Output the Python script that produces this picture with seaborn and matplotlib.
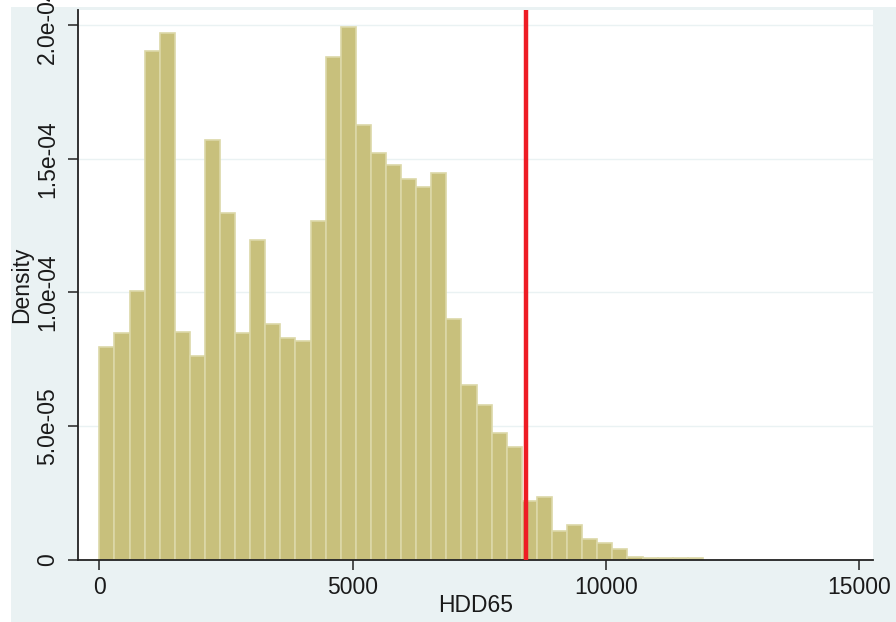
import numpy as np
import pandas as pd
import matplotlib
matplotlib.use("Agg")
import matplotlib.pyplot as plt
from matplotlib.patches import Rectangle
import seaborn as sns

# Histogram of heating degree days (HDD65): 40 bins of equal width starting at 0
bin_start = 0
bin_width = 298
density = [
    7.96e-05, 8.47e-05, 1.004e-04, 1.903e-04, 1.969e-04, 8.54e-05, 7.64e-05, 1.571e-04,
    1.296e-04, 8.47e-05, 1.197e-04, 8.84e-05, 8.31e-05, 8.17e-05, 1.267e-04, 1.879e-04,
    1.991e-04, 1.626e-04, 1.521e-04, 1.476e-04, 1.424e-04, 1.393e-04, 1.446e-04, 9.00e-05,
    6.53e-05, 5.79e-05, 4.74e-05, 4.21e-05, 2.21e-05, 2.36e-05, 1.07e-05, 1.29e-05,
    7.9e-06, 6.4e-06, 4.0e-06, 1.0e-06, 8.0e-07, 8.0e-07, 8.0e-07, 8.0e-07,
]
cutoff = 8420

x_ticks = [0, 5000, 10000, 15000]
x_tick_labels = ["0", "5000", "10000", "15000"]
y_ticks = [0, 5e-05, 1e-04, 1.5e-04, 2e-04]
y_tick_labels = ["0", "5.0e-05", "1.0e-04", "1.5e-04", "2.0e-04"]

edges = bin_start + bin_width * np.arange(len(density) + 1)
centers = (edges[:-1] + edges[1:]) / 2
hist_df = pd.DataFrame({"HDD65": centers, "density": density})

sns.set_theme(style="white")
plt.rcParams["font.family"] = ["Liberation Sans", "DejaVu Sans"]

W, H = 896, 622
fig = plt.figure(figsize=(W / 100, H / 100), dpi=100, facecolor="white")
# graph region backdrop
fig.patches.append(Rectangle((11 / W, 0), 1 - 11 / W, 1 - 7 / H,
                             transform=fig.transFigure, facecolor="#EAF2F3",
                             edgecolor="none", zorder=-10))

ax = fig.add_axes([78 / W, 1 - 560 / H, (873 - 78) / W, (560 - 10) / H])
ax.set_facecolor("white")

sns.histplot(data=hist_df, x="HDD65", weights="density", bins=edges.tolist(),
             stat="count", color="#C8C07C", edgecolor="#DCD8A8", linewidth=1.2,
             alpha=1, ax=ax, zorder=2)

ax.axvline(cutoff, color="#EE1C25", linewidth=3.2, zorder=3)

ax.set_xlim(-421, 15278)
ax.set_ylim(0, 2.056e-04)

ax.set_xticks(x_ticks)
ax.set_xticklabels(x_tick_labels)
ax.set_yticks(y_ticks)
ax.set_yticklabels(y_tick_labels)

ax.grid(axis="y", color="#EAF2F3", linewidth=1.0, zorder=0)
ax.grid(axis="x", visible=False)
ax.set_axisbelow(True)

for side in ["top", "right"]:
    ax.spines[side].set_visible(False)
for side in ["left", "bottom"]:
    ax.spines[side].set_color("#222222")
    ax.spines[side].set_linewidth(1.3)

ax.tick_params(axis="both", direction="out", length=7.5, width=1.1,
               color="#222222", labelsize=16.5, labelcolor="#1a1a1a")
ax.tick_params(axis="x", pad=4, bottom=True)
ax.tick_params(axis="y", pad=6, labelrotation=90, left=True)
for lbl in ax.get_yticklabels():
    lbl.set_verticalalignment("center")

ax.set_xlabel("HDD65", fontsize=16.5, color="#1a1a1a", va="center")
ax.set_ylabel("Density", fontsize=16.5, color="#1a1a1a", va="center")
ax.xaxis.set_label_coords(0.5, (560 - 605) / 550)
ax.yaxis.set_label_coords((22 - 78) / 795, 0.5)

fig.savefig("out.png", dpi=100, facecolor=fig.get_facecolor())
